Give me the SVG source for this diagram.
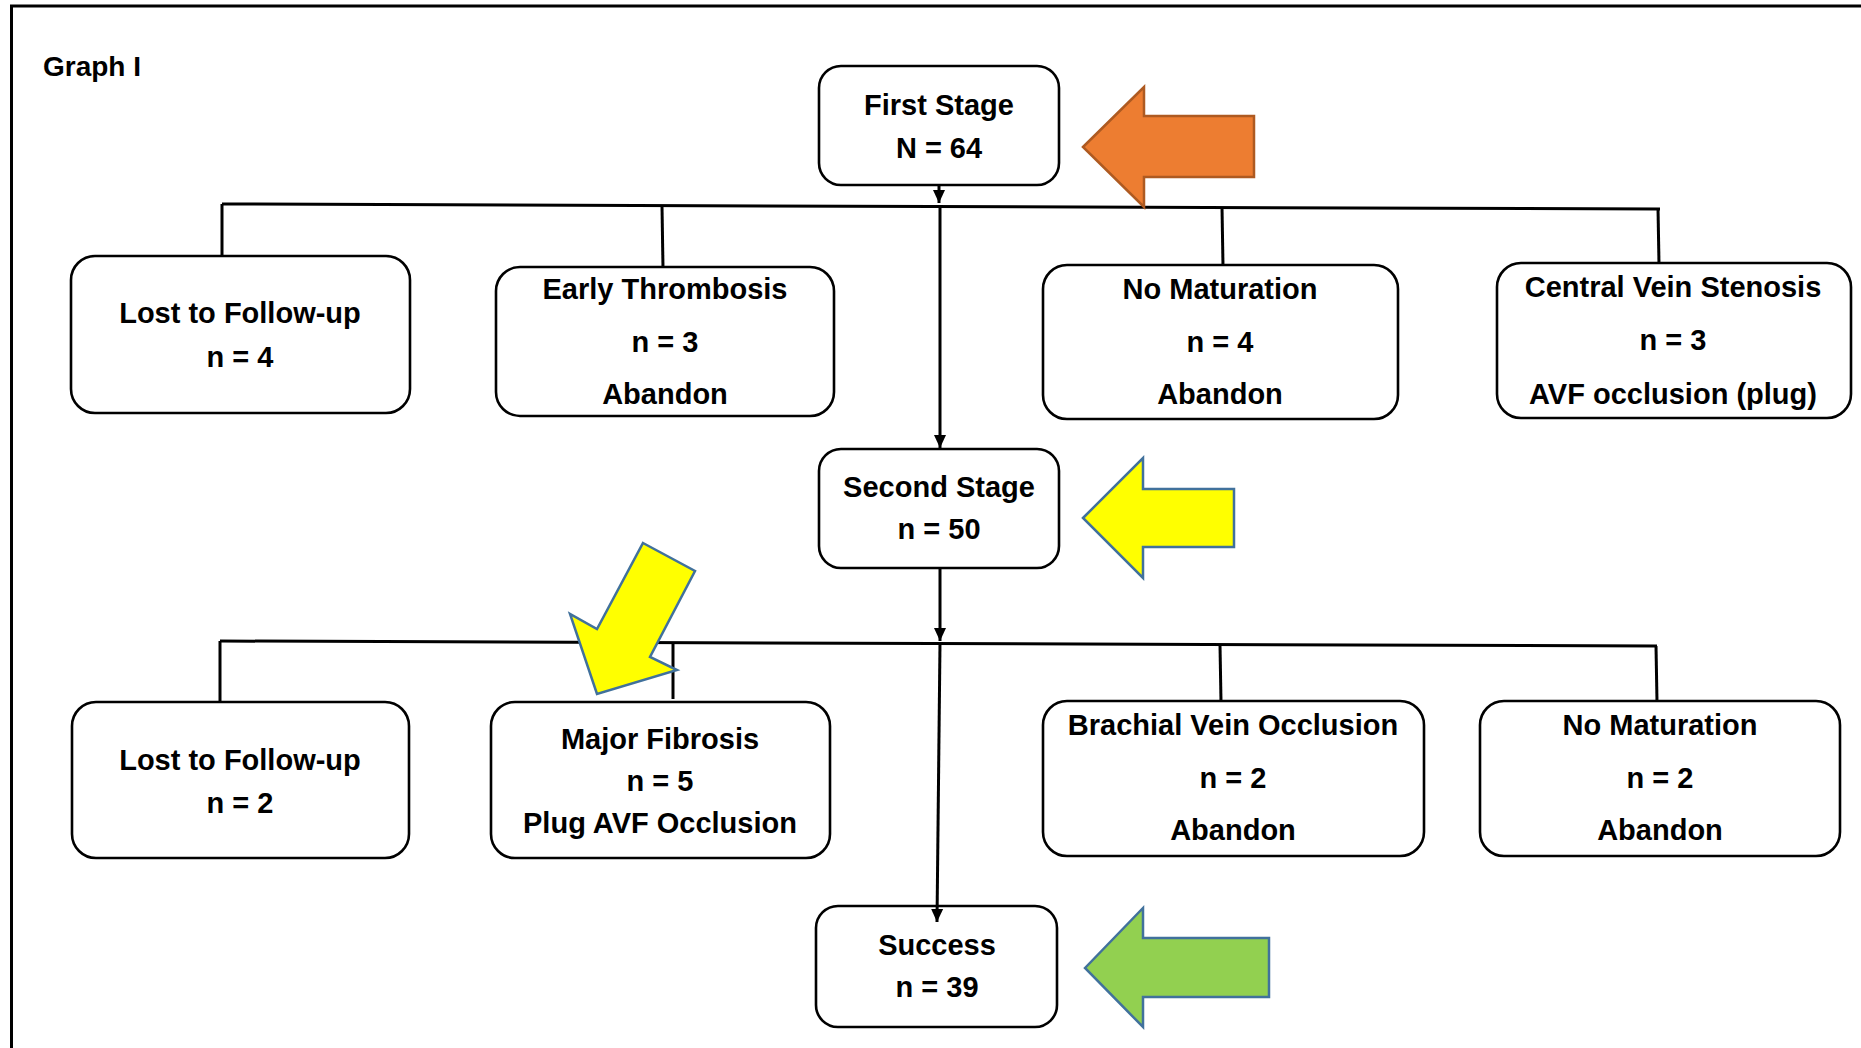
<svg xmlns="http://www.w3.org/2000/svg" width="1861" height="1048" viewBox="0 0 1861 1048">
<style>
  .box { fill: #ffffff; stroke: #000000; stroke-width: 2.6; }
  .t { font-family: "Liberation Sans", Arial, sans-serif; font-weight: bold; font-size: 29px; fill: #000000; text-anchor: middle; }
  .conn { fill: none; stroke: #000000; stroke-width: 3; }
  .blk { stroke-width: 2.5; stroke-linejoin: miter; }
</style>
<defs>
  <marker id="ah" markerUnits="userSpaceOnUse" markerWidth="14" markerHeight="14" viewBox="0 0 14 14" refX="13" refY="7" orient="auto">
    <path d="M0,1 L13,7 L0,13 z" fill="#000000"/>
  </marker>
</defs>
<rect x="0" y="0" width="1861" height="1048" fill="#ffffff"/>
<path d="M11.5,1048 V6 H1861" fill="none" stroke="#000000" stroke-width="3"/>
<text x="43" y="76" style="font-family:'Liberation Sans',Arial,sans-serif;font-weight:bold;font-size:28px;fill:#000">Graph I</text>

<g id="first-stage">
  <rect class="box" x="819" y="66" width="240" height="119" rx="22"/>
  <text class="t" x="939" y="115">First Stage</text>
  <text class="t" x="939" y="158">N = 64</text>
</g>
<g id="lost1">
  <rect class="box" x="71" y="256" width="339" height="157" rx="24"/>
  <text class="t" x="240" y="323">Lost to Follow-up</text>
  <text class="t" x="240" y="367">n = 4</text>
</g>
<g id="early-thrombosis">
  <rect class="box" x="496" y="267" width="338" height="149" rx="24"/>
  <text class="t" x="665" y="299">Early Thrombosis</text>
  <text class="t" x="665" y="352">n = 3</text>
  <text class="t" x="665" y="404">Abandon</text>
</g>
<g id="no-maturation1">
  <rect class="box" x="1043" y="265" width="355" height="154" rx="24"/>
  <text class="t" x="1220" y="299">No Maturation</text>
  <text class="t" x="1220" y="352">n = 4</text>
  <text class="t" x="1220" y="404">Abandon</text>
</g>
<g id="central-vein-stenosis">
  <rect class="box" x="1497" y="263" width="354" height="155" rx="24"/>
  <text class="t" x="1673" y="297">Central Vein Stenosis</text>
  <text class="t" x="1673" y="350">n = 3</text>
  <text class="t" x="1673" y="404">AVF occlusion (plug)</text>
</g>
<g id="second-stage">
  <rect class="box" x="819" y="449" width="240" height="119" rx="22"/>
  <text class="t" x="939" y="497">Second Stage</text>
  <text class="t" x="939" y="539">n = 50</text>
</g>
<g id="lost2">
  <rect class="box" x="72" y="702" width="337" height="156" rx="24"/>
  <text class="t" x="240" y="770">Lost to Follow-up</text>
  <text class="t" x="240" y="813">n = 2</text>
</g>
<g id="major-fibrosis">
  <rect class="box" x="491" y="702" width="339" height="156" rx="24"/>
  <text class="t" x="660" y="749">Major Fibrosis</text>
  <text class="t" x="660" y="791">n = 5</text>
  <text class="t" x="660" y="833">Plug AVF Occlusion</text>
</g>
<g id="brachial-vein-occlusion">
  <rect class="box" x="1043" y="701" width="381" height="155" rx="24"/>
  <text class="t" x="1233" y="735">Brachial Vein Occlusion</text>
  <text class="t" x="1233" y="788">n = 2</text>
  <text class="t" x="1233" y="840">Abandon</text>
</g>
<g id="no-maturation2">
  <rect class="box" x="1480" y="701" width="360" height="155" rx="24"/>
  <text class="t" x="1660" y="735">No Maturation</text>
  <text class="t" x="1660" y="788">n = 2</text>
  <text class="t" x="1660" y="840">Abandon</text>
</g>
<g id="success">
  <rect class="box" x="816" y="906" width="241" height="121" rx="22"/>
  <text class="t" x="937" y="955">Success</text>
  <text class="t" x="937" y="997">n = 39</text>
</g>

<g id="connectors">
  <path class="conn" d="M222,204 L1660,209"/>
  <path class="conn" d="M222,204 L222,256"/>
  <path class="conn" d="M662,206 L663,268"/>
  <path class="conn" d="M1222,207 L1223,266"/>
  <path class="conn" d="M1658,208 L1659,264"/>
  <path class="conn" d="M939,186 L939,203" marker-end="url(#ah)"/>
  <path class="conn" d="M940,206 L940,448" marker-end="url(#ah)"/>
  <path class="conn" d="M940,568 L940,641" marker-end="url(#ah)"/>
  <path class="conn" d="M220,641 L1657,646"/>
  <path class="conn" d="M220,641 L220,702"/>
  <path class="conn" d="M673,643 L673,699"/>
  <path class="conn" d="M1220,645 L1221,702"/>
  <path class="conn" d="M1656,646 L1657,702"/>
  <path class="conn" d="M940,643 L937,922" marker-end="url(#ah)"/>
</g>

<g id="orange-arrow">
  <polygon class="blk" points="1083,147 1144,87 1144,116 1254,116 1254,177 1144,177 1144,207" fill="#ED7D31" stroke="#AE5A21"/>
</g>
<g id="yellow-arrow">
  <polygon class="blk" points="1083,518 1143,458 1143,489 1234,489 1234,547 1143,547 1143,578" fill="#FFFF00" stroke="#41719C"/>
</g>
<g id="yellow-diagonal-arrow">
  <polygon class="blk" points="643,543 695,571 650,657 677,670 597,694 570,614 597,629" fill="#FFFF00" stroke="#41719C"/>
</g>
<g id="green-arrow">
  <polygon class="blk" points="1085,968 1143,908 1143,938 1269,938 1269,997 1143,997 1143,1027" fill="#92D050" stroke="#41719C"/>
</g>
</svg>
